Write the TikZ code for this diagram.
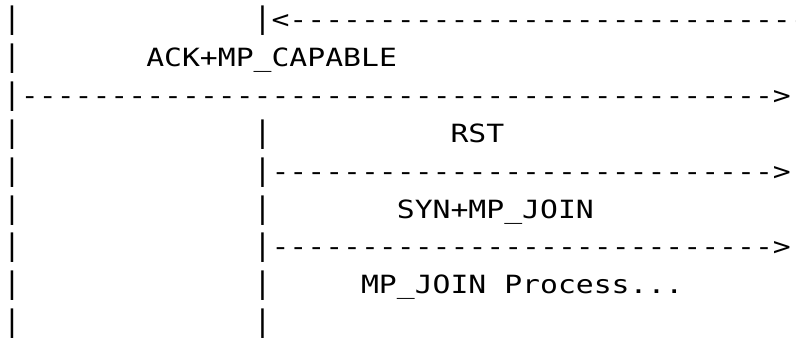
\documentclass[tikz,border=0pt]{standalone}
\usepackage{fontspec}
\usepackage{graphicx}
\newfontfamily\asciifont{DejaVu Sans Mono}[FakeStretch=1.185]
\newcount\dcnt
\newcommand\dashrun[1]{\dcnt=0\relax\loop\ifnum\dcnt<#1\relax -\kern0pt\advance\dcnt by 1\relax\repeat}
\newcommand\vbar{\scalebox{1}[1.18]{|}}
\tikzset{
  cell/.style={anchor=base west, inner sep=0pt, outer sep=0pt, text=black,
    font=\asciifont\fontsize{25.1pt}{30pt}\selectfont}
}
\begin{document}
\begin{tikzpicture}
\useasboundingbox (0pt,0pt) rectangle (796pt,-341pt);
\clip (0pt,0pt) rectangle (796pt,-341pt);
\begin{scope}[shift={(3.05pt,-28.5pt)}, x=17.9pt, y=-37.9pt]
  % row 1
  \node[cell] (a0) at (0,0) {\vbar};
  \node[cell] (b0) at (14,0) {\vbar<\dashrun{32}};
  % row 2
  \node[cell] (a1) at (0,1) {\vbar};
  \node[cell] (ack) at (8,1) {ACK+MP\_CAPABLE};
  % row 3
  \node[cell] (a2) at (0,2) {\vbar\dashrun{42}>};
  % row 4
  \node[cell] (a3) at (0,3) {\vbar};
  \node[cell] (b3) at (14,3) {\vbar};
  \node[cell] (rst) at (25,3) {RST};
  % row 5
  \node[cell] (a4) at (0,4) {\vbar};
  \node[cell] (b4) at (14,4) {\vbar\dashrun{28}>};
  % row 6
  \node[cell] (a5) at (0,5) {\vbar};
  \node[cell] (b5) at (14,5) {\vbar};
  \node[cell] (syn) at (22,5) {SYN+MP\_JOIN};
  % row 7
  \node[cell] (a6) at (0,6) {\vbar};
  \node[cell] (b6) at (14,6) {\vbar\dashrun{28}>};
  % row 8
  \node[cell] (a7) at (0,7) {\vbar};
  \node[cell] (b7) at (14,7) {\vbar};
  \node[cell] (proc) at (20,7) {MP\_JOIN Process...};
  % row 9
  \node[cell] (a8) at (0,8) {\vbar};
  \node[cell] (b8) at (14,8) {\vbar};
\end{scope}
\end{tikzpicture}
\end{document}
